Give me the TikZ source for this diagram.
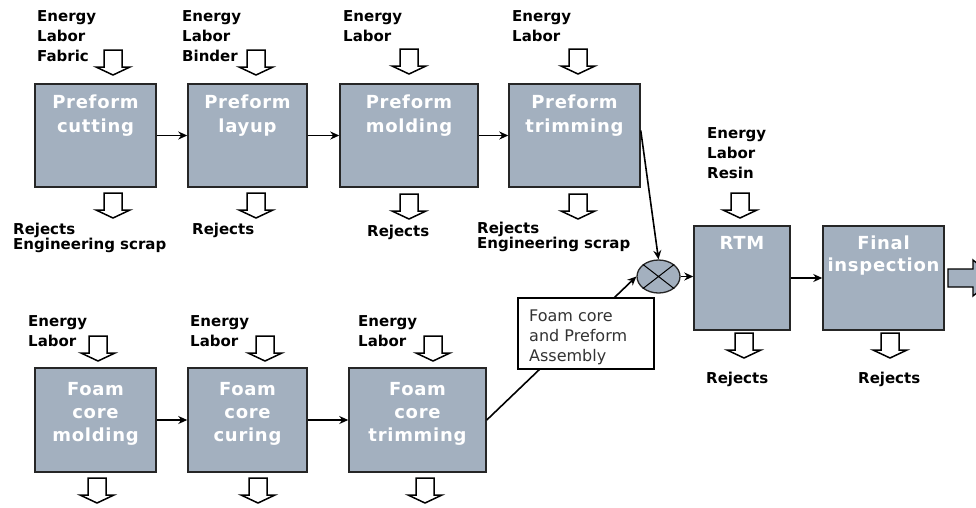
\documentclass[tikz,border=0pt]{standalone}
\usepackage{fontspec}
\setmainfont{DejaVu Sans}
\newfontfamily\boxfont[LetterSpace=4]{DejaVu Sans}
\usetikzlibrary{arrows.meta,shapes.geometric}
\definecolor{boxfill}{RGB}{163,176,191}
\tikzset{
  proc/.style={draw=black!85, line width=1.5pt, fill=boxfill, minimum height=103pt, inner sep=0pt},
  ptext/.style={text=white, font=\boxfont\bfseries\fontsize{18}{24}\selectfont, align=center, anchor=north, inner sep=0pt},
  lab/.style={font=\bfseries\fontsize{15}{20}\selectfont, align=left, anchor=north west, inner sep=0pt},
  rej/.style={font=\bfseries\fontsize{15}{15}\selectfont, align=left, anchor=north west, inner sep=0pt},
  conn/.style={line width=1.6pt, -{Stealth[length=9pt,width=8pt]}},
  dn/.pic={\draw[line width=1.5pt, fill=white] (-9,0) -- (9,0) -- (9,17) -- (17,17) -- (0,25) -- (-17,17) -- (-9,17) -- cycle;}
}
\begin{document}
\begin{tikzpicture}[x=1pt,y=-1pt]
\useasboundingbox (0,0) rectangle (976,507);
% process boxes
\node[proc, minimum width=121pt] (pc) at (95.5,135.5) {};
\node[proc, minimum width=119pt] (pl) at (247.5,135.5) {};
\node[proc, minimum width=138pt] (pm) at (409,135.5) {};
\node[proc, minimum width=131pt] (pt) at (574.5,135.5) {};
\node[proc, minimum width=96pt, minimum height=104pt] (rtm) at (742,278) {};
\node[proc, minimum width=121pt, minimum height=104pt] (fi) at (883.5,278) {};
\node[proc, minimum width=121pt, minimum height=104pt] (fm) at (95.5,420) {};
\node[proc, minimum width=119pt, minimum height=104pt] (fc) at (247.5,420) {};
\node[proc, minimum width=137pt, minimum height=104pt] (ft) at (417.5,420) {};
% box texts
\node[ptext] (pct) at (95.5,94.5) {Preform\\cutting};
\node[ptext] (plt) at (247.5,94.5) {Preform\\layup};
\node[ptext] (pmt) at (409,94.5) {Preform\\molding};
\node[ptext] (ptt) at (574.5,94.5) {Preform\\trimming};
\node[ptext] (rtmt) at (742,236.5) {RTM};
\node[ptext, font=\boxfont\bfseries\fontsize{18}{22}\selectfont] (fit) at (883.5,236) {Final\\inspection};
\node[ptext, font=\boxfont\bfseries\fontsize{18}{23}\selectfont] (fmt) at (95.5,382) {Foam\\core\\molding};
\node[ptext, font=\boxfont\bfseries\fontsize{18}{23}\selectfont] (fct) at (247.5,382) {Foam\\core\\curing};
\node[ptext, font=\boxfont\bfseries\fontsize{18}{23}\selectfont] (ftt) at (417.5,382) {Foam\\core\\trimming};
% junction
\node[ellipse, draw=black!85, line width=1.3pt, fill=boxfill, minimum width=43pt, minimum height=33pt, inner sep=0pt] (jn) at (658.5,276.5) {};
\draw[line width=1pt] (jn.north west) -- (jn.south east) (jn.north east) -- (jn.south west);
% input labels
\node[lab] (l1) at (37,10) {Energy\\Labor\\Fabric};
\node[lab] (l2) at (182,10) {Energy\\Labor\\Binder};
\node[lab] (l3) at (343,10) {Energy\\Labor};
\node[lab] (l4) at (512,10) {Energy\\Labor};
\node[lab] (l5) at (707,127) {Energy\\Labor\\Resin};
\node[lab] (l6) at (28,315) {Energy\\Labor};
\node[lab] (l7) at (190,315) {Energy\\Labor};
\node[lab] (l8) at (358,315) {Energy\\Labor};
% output labels
\node[rej] (r1) at (13,223) {Rejects\\Engineering scrap};
\node[rej] (r2) at (192,223) {Rejects};
\node[rej] (r3) at (367,225) {Rejects};
\node[rej] (r4) at (477,222) {Rejects\\Engineering scrap};
\node[rej] (r5) at (706,372) {Rejects};
\node[rej] (r6) at (858,372) {Rejects};
% block arrows
\pic (a1) at (113,50) {dn};
\pic (a2) at (113,193) {dn};
\pic (a3) at (256,50) {dn};
\pic (a4) at (256,193) {dn};
\pic (a5) at (409,49) {dn};
\pic (a6) at (409,194) {dn};
\pic (a7) at (578,49) {dn};
\pic (a8) at (578,194) {dn};
\pic (a9) at (740,193) {dn};
\pic (a10) at (744,333) {dn};
\pic (a11) at (890,333) {dn};
\pic (a12) at (98,336) {dn};
\pic (a13) at (97,478) {dn};
\pic (a14) at (265,336) {dn};
\pic (a15) at (258,478) {dn};
\pic (a16) at (433,336) {dn};
\pic (a17) at (425,478) {dn};
% output block arrow
\draw[line width=1.3pt, fill=boxfill] (948,269) -- (973,269) -- (973,260) -- (995,278) -- (973,296) -- (973,287) -- (948,287) -- cycle;
% connectors
\draw[conn] (pc) -- (pl);
\draw[conn] (pl) -- (pm);
\draw[conn] (pm) -- (pt);
\draw[conn] (fm) -- (fc);
\draw[conn] (fc) -- (ft);
\draw[conn] (rtm) -- (fi);
\draw[conn] (jn.east) -- (jn.east -| rtm.west);
\draw[conn] ([yshift=5pt]pt.east) -- (jn.north);
\draw[conn] (ft.east) -- (jn.west);
% assembly label box
\node[draw=black, line width=1.2pt, fill=white, minimum width=136pt, minimum height=71pt, inner sep=0pt] (asm) at (586,333.5) {};
\node[font=\fontsize{16}{20}\selectfont, align=left, anchor=north west, inner sep=0pt, text=black!80] (asmt) at (529,310) {Foam core\\and Preform\\Assembly};
\end{tikzpicture}
\end{document}
